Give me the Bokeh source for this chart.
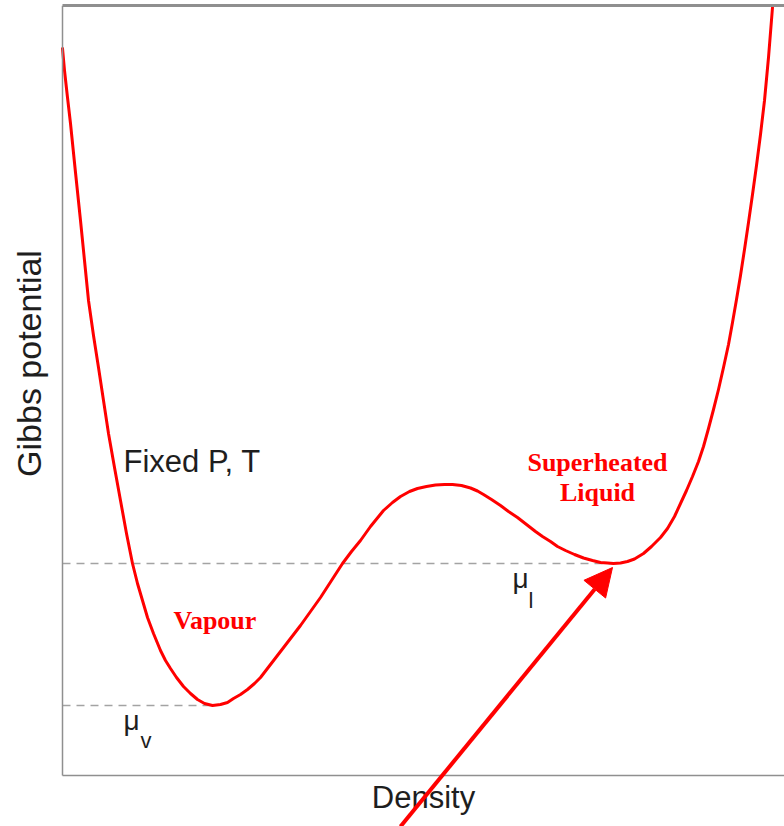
import numpy as np
from bokeh.plotting import figure
from bokeh.models import Label, Arrow, NormalHead, FixedTicker, LinearAxis, Range1d
from bokeh.embed import file_html
from bokeh.resources import INLINE

# Gibbs potential vs density at fixed P, T (arbitrary units)
density = [0, 2, 5, 8, 13, 18, 22, 26, 31, 36, 41, 46, 52, 58, 64, 70, 75, 80, 85, 91,
           98, 103, 108, 114, 121, 128, 135, 142, 150, 158, 165, 171, 178, 185, 192, 198,
           208, 218, 228, 238, 248, 258, 269, 280, 289, 298, 308, 321, 330, 338, 347, 355,
           364, 373, 382, 390, 399, 408, 415, 421, 429, 438, 446, 455, 464, 473, 480, 488,
           495, 503, 512, 521, 530, 538, 545, 551, 558, 565, 572, 581, 589, 598, 605, 612,
           618, 624, 630, 636, 641, 646, 651, 656, 661, 666, 670, 674, 678, 682, 686, 690,
           694, 698, 702, 706, 710]
gibbs = [727, 705, 678, 652, 603, 555, 515, 475, 440, 408, 375, 342, 308, 275, 242, 212,
         192, 175, 158, 142, 125, 115, 107, 98, 89, 82, 76, 72, 70, 71, 73, 77, 81, 86, 92,
         98, 111, 124, 137, 150, 164, 178, 195, 212, 224, 235, 249, 265, 273, 279, 284, 287,
         289, 290.5, 291, 291, 290, 287.5, 284.5, 281, 276, 270, 264, 258, 251, 244, 239,
         234, 229, 225, 221, 217.5, 215, 213, 212.5, 212, 212.5, 214, 216.5, 222, 229, 238,
         247, 259, 272, 285, 299, 314, 329, 347, 366, 386, 408, 431, 453, 476, 500, 526,
         553, 581, 610, 641, 675, 718, 768]

x_title = "Density"
y_title = "Gibbs potential"
condition_text = "Fixed P, T"
vapour_text = "Vapour"
liquid_text = ["Superheated", "Liquid"]

d = np.array(density, dtype=float)
g = np.array(gibbs, dtype=float)
i_v = int(np.argmin(np.where(d < 300, g, np.inf)))
i_l = int(np.argmin(np.where((d > 450) & (d < 650), g, np.inf)))
mu_v, rho_v = g[i_v], d[i_v]
mu_l, rho_l = g[i_l], d[i_l]

SANS = "Liberation Sans"
SERIF = "Liberation Serif"
INK = "#1e1e1e"
RED = "#ff0000"
AXIS = "#8f8f8f"

D_MAX = 722
G_MAX = 770
# The frame covers the whole canvas; both axes are pinned at 0 so that the arrow and the
# titles, which are clipped to the frame, can sit outside the axes.
p = figure(width=784, height=826, x_range=Range1d(-62, D_MAX), y_range=Range1d(-51, G_MAX),
           output_backend="svg", toolbar_location=None,
           min_border_left=0, min_border_right=0, min_border_top=5, min_border_bottom=0,
           x_axis_label=x_title)
p.background_fill_color = "white"
p.border_fill_color = "white"
p.outline_line_color = None
p.xgrid.visible = False
p.ygrid.visible = False

for ax in (p.xaxis[0], p.yaxis[0]):
    ax.ticker = FixedTicker(ticks=[])
    ax.minor_tick_out = 0
    ax.minor_tick_in = 0
    ax.major_tick_out = 0
    ax.major_tick_in = 0
    ax.major_label_text_font_size = "0px"
    ax.axis_line_color = AXIS
    ax.axis_line_width = 1.5
    ax.axis_label_text_font = SANS
    ax.axis_label_text_font_style = "normal"
    ax.axis_label_text_color = INK
p.xaxis.axis_label_text_font_size = "31px"
p.xaxis.axis_label_standoff = 4
p.xaxis.fixed_location = 0
p.xaxis.bounds = (0, D_MAX)
p.yaxis.fixed_location = 0
p.yaxis.bounds = (0, G_MAX)

# y-axis title, to the left of the axis, centred on the axis span
p.add_layout(Label(x=-34, y=(0 + G_MAX) / 2 + 27, text=y_title,
                   angle=np.pi / 2, text_align="center", text_baseline="alphabetic",
                   text_font=SANS, text_font_size="34px", text_color=INK))

top = LinearAxis(ticker=FixedTicker(ticks=[]), axis_line_color=AXIS, axis_line_width=3,
                 major_tick_out=0, major_tick_in=0, minor_tick_out=0, minor_tick_in=0,
                 major_label_text_font_size="0px", bounds=(0, D_MAX))
p.add_layout(top, "above")

# dashed reference levels
p.line([0, rho_v], [mu_v, mu_v], line_color="#a3a3a3", line_width=1.5, line_dash="8 6")
p.line([0, rho_l], [mu_l, mu_l], line_color="#a3a3a3", line_width=1.5, line_dash="8 6")

# curve
p.line(density, gibbs, line_color=RED, line_width=3, line_join="round", line_cap="round")

# texts
p.add_layout(Label(x=61, y=297, text=condition_text, text_font=SANS, text_font_size="31px",
                   text_color=INK))
p.add_layout(Label(x=61, y=40, text="μ", text_font=SANS, text_font_size="28px", text_color=INK))
p.add_layout(Label(x=78, y=23, text="v", text_font=SANS, text_font_size="22px", text_color=INK))
p.add_layout(Label(x=450, y=182, text="μ", text_font=SANS, text_font_size="28px", text_color=INK))
p.add_layout(Label(x=466, y=163, text="l", text_font=SANS, text_font_size="22px", text_color=INK))

p.add_layout(Label(x=111, y=141, text=vapour_text, text_font=SERIF, text_font_style="bold",
                   text_font_size="26px", text_color=RED))
p.add_layout(Label(x=535, y=299, text=liquid_text[0], text_font=SERIF, text_font_style="bold",
                   text_font_size="26px", text_color=RED, text_align="center"))
p.add_layout(Label(x=535, y=269, text=liquid_text[1], text_font=SERIF, text_font_style="bold",
                   text_font_size="26px", text_color=RED, text_align="center"))

# arrow pointing at the superheated-liquid minimum
p.add_layout(Arrow(end=NormalHead(size=28, fill_color=RED, line_color=RED),
                   x_start=338, y_start=-51, x_end=rho_l - 1, y_end=mu_l - 4,
                   line_color=RED, line_width=4))

open("out.html", "w").write(file_html(p, INLINE))
